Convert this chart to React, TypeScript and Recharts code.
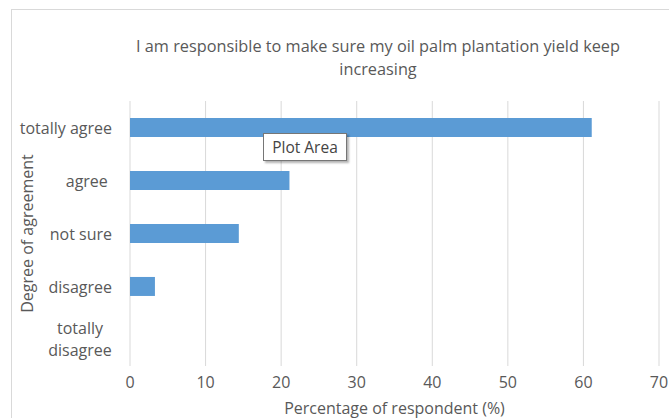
import { BarChart, Bar, XAxis, YAxis, CartesianGrid, Label } from 'recharts';

const categories = ['totally agree', 'agree ', 'not sure', 'disagree', 'totally disagree'];
const percentages = [61.1, 21.1, 14.4, 3.3, 0];
const percentTicks = [0, 10, 20, 30, 40, 50, 60, 70];

const rows = categories.map((name, i) => ({ name, value: percentages[i] }));

const FONT = '"Open Sans", sans-serif';
const TEXT = '#595959';
const SIZE = 16;

// wrapped category label, lines centred under each other and right-aligned as a block
function CategoryTick(props: any) {
  const { y, payload } = props;
  const label: string = payload.value;
  const right = 112;
  if (label === 'totally disagree') {
    return (
      <g>
        <text x={80} y={y - 12} textAnchor="middle" dominantBaseline="central" fill={TEXT} fontSize={SIZE} fontFamily={FONT}>
          totally
        </text>
        <text x={80} y={y + 10} textAnchor="middle" dominantBaseline="central" fill={TEXT} fontSize={SIZE} fontFamily={FONT}>
          disagree
        </text>
      </g>
    );
  }
  return (
    <text x={right} y={y} textAnchor="end" dominantBaseline="central" fill={TEXT} fontSize={SIZE} fontFamily={FONT} style={{ whiteSpace: 'pre' }}>
      {label}
    </text>
  );
}

export default function App() {
  return (
    <div style={{ position: 'fixed', left: 0, top: 0, width: 669, height: 418, overflow: 'hidden', background: '#fff' }}>
      <div style={{ position: 'absolute', left: 11, top: 9, width: 720, height: 480, border: '1px solid #d9d9d9' }} />
      <div
        style={{
          position: 'absolute',
          left: 0,
          top: 35,
          width: 756,
          textAlign: 'center',
          fontFamily: FONT,
          fontSize: 16.3,
          lineHeight: '23px',
          color: TEXT,
        }}
      >
        I am responsible to make sure my oil palm plantation yield keep
        <br />
        increasing
      </div>
      <div style={{ position: 'absolute', left: 0, top: 0 }}>
        <BarChart
          width={669}
          height={418}
          data={rows}
          layout="vertical"
          margin={{ top: 101, right: 10, left: 0, bottom: 0 }}
          barCategoryGap="32%"
        >
          <CartesianGrid horizontal={false} stroke="#d9d9d9" />
          <XAxis
            type="number"
            domain={[0, 70]}
            ticks={percentTicks}
            axisLine={false}
            tickLine={false}
            height={52}
            tickMargin={5}
            tick={{ fill: TEXT, fontSize: SIZE, fontFamily: FONT }}
          >
            <Label
              value="Percentage of respondent (%)"
              position="insideBottom"
              offset={4}
              fill={TEXT}
              fontSize={SIZE}
              fontFamily={FONT}
            />
          </XAxis>
          <YAxis
            type="category"
            dataKey="name"
            width={130}
            axisLine={false}
            tickLine={false}
            tick={<CategoryTick />}
            interval={0}
          >
            <Label
              content={({ viewBox }: any) => {
                const cy = viewBox.y + viewBox.height / 2;
                return (
                  <text
                    x={27}
                    y={cy}
                    transform={`rotate(-90, 27, ${cy})`}
                    textAnchor="middle"
                    dominantBaseline="central"
                    fill={TEXT}
                    fontSize={SIZE}
                    fontFamily={FONT}
                  >
                    Degree of agreement
                  </text>
                );
              }}
            />
          </YAxis>
          <Bar dataKey="value" fill="#5b9bd5" isAnimationActive={false} />
        </BarChart>
      </div>
      <div
        style={{
          position: 'absolute',
          left: 263,
          top: 133,
          width: 82,
          height: 26,
          border: '1px solid #767676',
          background: '#fff',
          boxShadow: '2px 2px 2px rgba(0,0,0,0.3)',
          fontFamily: FONT,
          fontSize: 15.5,
          color: '#444',
          lineHeight: '26px',
          textAlign: 'center',
        }}
      >
        Plot Area
      </div>
    </div>
  );
}
